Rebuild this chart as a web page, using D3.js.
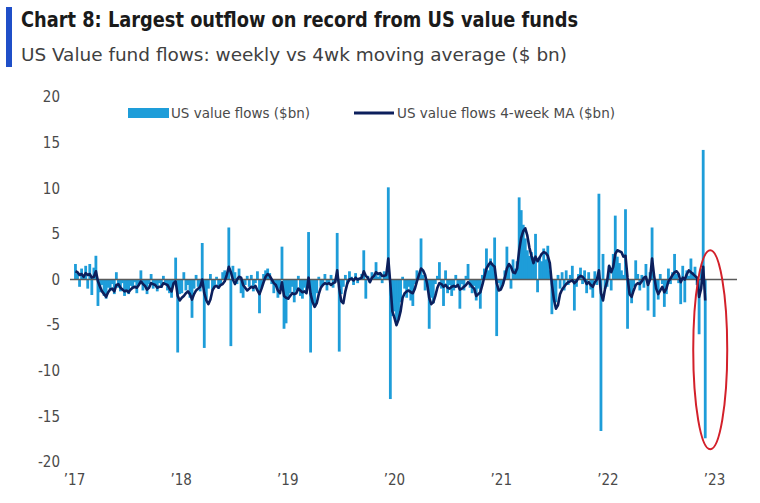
<!DOCTYPE html>
<html><head><meta charset="utf-8">
<script src="https://cdn.jsdelivr.net/npm/d3@7"></script>
<style>html,body{margin:0;padding:0;background:#fff;} svg{display:block;}</style>
</head><body>
<svg id="chart" width="760" height="503"></svg>
<script>
const titleText = "Chart 8: Largest outflow on record from US value funds";
const subtitleText = "US Value fund flows: weekly vs 4wk moving average ($ bn)";
const legendLabels = ["US value flows ($bn)", "US value flows 4-week MA ($bn)"];
const firstWeek = "2017-01-06";

// Weekly flows ($bn), one array per year
const flows2017 = [1.7,0.6,-0.8,1.2,0.4,1.5,-1.0,1.7,-1.7,1.3,2.6,-2.9,-1.4,-0.6,-1.8,-2.1,-0.9,-1.2,-0.5,-1.6,0.8,-0.9,-1.3,-0.4,-1.8,-1.1,-1.6,-0.7,-0.9,-0.3,-1.5,-0.6,1.0,-1.2,-0.8,-1.6,-0.5,0.6,-1.0,-0.7,-1.3,-0.4,-0.9,0.4,-0.6,-1.2,-1.5,-2.0,-0.5,2.4,-8.0,-1.6];
const flows2018 = [-1.5,0.8,-1.2,-0.6,-2.0,-4.2,-1.0,0.5,-0.8,-1.3,4.0,-7.5,-2.2,-1.0,0.6,-1.2,-0.7,0.3,-1.0,-0.5,0.8,1.0,0.4,5.7,-7.3,1.5,0.8,-0.5,1.2,-1.5,-2.0,-0.6,0.4,-0.8,0.5,-1.3,-0.4,0.9,-3.7,-0.8,0.6,1.0,1.2,0.7,-0.5,-1.5,-0.8,-2.0,-1.0,3.6,-5.4,-4.8];
const flows2019 = [-2.2,-1.5,-0.8,-2.5,-1.2,0.4,-1.8,-2.1,-0.9,-1.4,5.2,-8.0,-2.4,-3.0,-1.5,0.3,-0.8,-0.5,0.6,-1.2,-0.4,0.5,-0.9,-0.3,5.1,-7.9,-1.6,-0.8,0.5,-0.5,0.9,0.3,-0.6,0.7,-0.4,0.2,0.6,3.2,-2.1,0.4,-0.3,0.8,0.5,1.9,0.3,0.6,-0.4,0.9,0.5,10.1,-13.1,-4.0];
const flows2020 = [-3.5,-5.0,-4.2,-2.5,0.3,-1.0,-2.0,-0.8,-2.3,-2.9,-0.5,1.0,0.6,4.5,0.5,-1.2,-0.8,-5.4,-2.0,-2.6,-0.5,0.4,1.9,-1.0,-2.9,1.0,-1.5,-0.6,-1.8,-1.2,0.5,-0.8,-3.2,-0.5,-1.2,0.4,1.7,-0.9,-1.5,-0.7,-2.3,-1.0,-3.2,0.5,1.2,3.4,1.0,2.3,1.5,4.6,-6.2,-0.4];
const flows2021 = [-1.1,-0.5,1.0,3.6,1.5,-1.0,2.2,1.2,2.0,9.0,7.6,6.0,4.5,3.2,2.6,3.0,2.5,5.0,-1.4,2.5,2.0,3.4,2.2,3.7,1.0,-3.8,-2.0,-2.5,0.5,-1.0,0.8,-1.2,1.0,-0.6,0.5,1.5,-3.4,-0.8,0.6,1.3,-0.5,1.0,-1.5,0.8,-1.1,-2.0,0.9,-0.6,9.4,-16.6,2.8,-1.0];
const flows2022 = [-0.8,1.5,-1.2,2.8,7.0,2.5,1.8,1.0,0.5,7.7,-5.4,-1.5,-2.6,-0.8,2.1,0.6,-1.2,0.5,-0.9,1.7,-3.4,0.8,5.7,-4.1,-1.0,-2.2,0.6,-0.5,-3.0,-1.6,1.2,-0.5,0.8,2.8,0.6,-0.4,-2.7,1.5,-2.5,1.0,0.4,2.3,0.8,1.4,-0.6,-6.0,1.2,14.2,-17.4];

// 4-week moving average ($bn)
const ma2017 = [0.9,0.8,0.5,0.6,0.3,0.7,0.5,0.6,0.2,0.3,0.9,-0.2,-0.8,-1.3,-1.6,-1.9,-1.4,-1.1,-1.0,-1.3,-0.6,-0.5,-0.9,-1.1,-1.3,-1.2,-1.4,-1.1,-0.9,-0.8,-0.9,-0.6,-0.2,-0.5,-0.7,-1.1,-0.9,-0.4,-0.5,-0.6,-0.9,-0.8,-0.8,-0.4,-0.5,-0.6,-1.0,-1.3,-0.4,-0.2,-1.8,-2.3];
const ma2018 = [-2.0,-1.8,-1.5,-1.3,-1.6,-2.2,-1.6,-1.2,-1.0,-0.8,0.0,-1.5,-2.3,-2.7,-2.2,-1.2,-0.8,-0.7,-0.9,-0.6,-0.5,-0.2,0.5,1.4,0.8,0.0,-0.5,0.0,0.3,0.2,-0.6,-0.9,-1.2,-1.0,-0.8,-0.9,-0.7,-1.2,-1.6,-1.0,-0.3,0.3,0.6,0.4,0.0,-0.4,-0.6,-1.2,-1.5,-0.3,-1.8,-2.0];
const ma2019 = [-2.1,-1.8,-1.5,-1.6,-1.5,-1.0,-1.2,-1.4,-1.3,-1.5,0.2,-1.6,-2.5,-3.0,-2.6,-1.6,-0.9,-0.6,-0.4,-0.5,-0.4,-0.6,-0.4,-0.3,1.0,-1.0,-2.4,-2.6,-1.3,-0.4,0.0,0.1,-0.1,0.2,0.0,0.1,0.2,0.9,0.4,0.2,-0.3,0.2,0.4,0.8,0.6,0.7,0.4,0.4,0.5,2.3,-0.5,-3.5];
const ma2020 = [-4.2,-5.0,-4.4,-3.5,-2.0,-1.5,-1.3,-1.2,-1.4,-1.5,-1.0,-0.2,0.5,1.2,1.0,0.5,-0.5,-2.0,-2.7,-2.5,-1.8,-0.9,-0.4,-0.5,-0.8,-0.6,-0.9,-1.0,-0.8,-0.7,-0.8,-0.6,-1.1,-1.0,-0.8,-0.6,-0.3,-0.5,-0.8,-1.0,-1.8,-1.6,-1.4,-0.6,0.3,1.2,1.6,1.9,1.6,1.4,-0.4,-1.2];
const ma2021 = [-1.1,-0.6,0.2,1.2,1.7,1.4,0.8,0.7,1.2,3.2,4.6,5.3,5.6,4.8,3.5,2.6,1.8,2.5,2.0,2.4,2.8,3.0,2.9,2.6,1.8,-0.5,-2.2,-3.2,-2.8,-1.6,-1.1,-0.8,-0.5,-0.3,-0.2,-0.1,-0.4,-0.2,0.2,0.4,0.3,0.0,-0.5,-0.3,-0.6,-0.8,-0.3,0.0,1.0,-1.5,-2.3,-1.0];
const ma2022 = [-0.2,1.5,0.8,1.4,2.8,3.2,3.1,3.0,2.5,2.6,0.2,-1.6,-1.9,-1.2,-0.6,-0.4,-0.5,-0.2,0.2,0.3,-0.6,0.0,2.3,0.4,-1.0,-1.6,-1.2,-0.8,-1.4,-1.0,-0.2,0.1,0.5,0.8,0.9,0.6,-0.3,0.2,0.0,0.6,1.0,0.8,0.6,0.4,0.2,-1.9,-1.0,1.4,-2.3];

const yTicks = [20, 15, 10, 5, 0, -5, -10, -15, -20];
const xTickYears = [2017, 2018, 2019, 2020, 2021, 2022, 2023];
const xTickLabels = ["\u201917", "\u201918", "\u201919", "\u201920", "\u201921", "\u201922", "\u201923"];

const flows = [].concat(flows2017, flows2018, flows2019, flows2020, flows2021, flows2022);
const ma = [].concat(ma2017, ma2018, ma2019, ma2020, ma2021, ma2022);
const start = d3.timeParse("%Y-%m-%d")(firstWeek);
const data = flows.map((v, i) => ({ date: d3.timeDay.offset(start, 7 * i), flow: v, ma: ma[i] }));

const FONT = "'Liberation Sans Narrow','DejaVu Sans Condensed','Roboto Condensed','Liberation Sans',sans-serif";
const BAR = "#1e9dd9", NAVY = "#0c1f5c", TXT = "#4a4a4a";

const svg = d3.select("#chart");
svg.append("rect").attr("width", 760).attr("height", 503).attr("fill", "#fff");

const x = d3.scaleTime()
  .domain([new Date(xTickYears[0], 0, 1), new Date(xTickYears[xTickYears.length - 1], 0, 1)])
  .range([74, 714]);
const y = d3.scaleLinear().domain([-20, 20]).range([462, 97]);

// Title block
svg.append("rect").attr("x", 6).attr("y", 7).attr("width", 6).attr("height", 60).attr("fill", "#1f4fc8");
svg.append("text").attr("x", 21).attr("y", 27).text(titleText)
  .attr("font-family", FONT).attr("font-weight", "bold").attr("font-size", 21).attr("fill", "#1a1a1a")
  .attr("textLength", 557).attr("lengthAdjust", "spacingAndGlyphs");
svg.append("text").attr("x", 21).attr("y", 61).text(subtitleText)
  .attr("font-family", FONT).attr("font-size", 18.5).attr("fill", "#404040")
  .attr("textLength", 546).attr("lengthAdjust", "spacingAndGlyphs");

// Legend
const lg = svg.append("g");
lg.append("rect").attr("x", 128).attr("y", 108).attr("width", 41).attr("height", 10).attr("fill", BAR);
lg.append("text").attr("x", 171).attr("y", 118).text(legendLabels[0])
  .attr("font-family", FONT).attr("font-size", 14).attr("fill", TXT)
  .attr("textLength", 139).attr("lengthAdjust", "spacingAndGlyphs");
lg.append("line").attr("x1", 354).attr("x2", 394).attr("y1", 113).attr("y2", 113)
  .attr("stroke", NAVY).attr("stroke-width", 3);
lg.append("text").attr("x", 397).attr("y", 118).text(legendLabels[1])
  .attr("font-family", FONT).attr("font-size", 14).attr("fill", TXT)
  .attr("textLength", 218).attr("lengthAdjust", "spacingAndGlyphs");

// Y axis labels (plain hyphen minus, as in the original)
const yAxis = d3.axisLeft(y).tickValues(yTicks).tickSize(0).tickPadding(0).tickFormat(d => String(d));
const gy = svg.append("g").attr("transform", "translate(60,0)").call(yAxis);
gy.select(".domain").remove();
gy.selectAll("text").attr("font-family", FONT).attr("font-size", 15).attr("fill", TXT);

// X axis labels
const xAxis = d3.axisBottom(x).tickValues(xTickYears.map(yr => new Date(yr, 0, 1)))
  .tickSize(0).tickPadding(0).tickFormat((d, i) => xTickLabels[i]);
const gx = svg.append("g").attr("transform", "translate(0,474)").call(xAxis);
gx.select(".domain").remove();
gx.selectAll("text").attr("font-family", FONT).attr("font-size", 15).attr("fill", TXT);

// Bars
const bw = 2.8;
svg.append("g").selectAll("rect").data(data).join("rect")
  .attr("x", d => x(d.date) - bw / 2)
  .attr("width", bw)
  .attr("y", d => y(Math.max(0, d.flow)))
  .attr("height", d => Math.abs(y(d.flow) - y(0)))
  .attr("fill", BAR);

// Zero line
svg.append("line").attr("x1", 70).attr("x2", 737).attr("y1", y(0)).attr("y2", y(0))
  .attr("stroke", "#5a5a5a").attr("stroke-width", 1.5);

// Moving average
svg.append("path").datum(data)
  .attr("d", d3.line().x(d => x(d.date)).y(d => y(d.ma)))
  .attr("fill", "none").attr("stroke", NAVY).attr("stroke-width", 2.6).attr("stroke-linejoin", "round");

// Highlight ellipse around the last weeks
const last = data[data.length - 1];
svg.append("ellipse")
  .attr("cx", x(last.date) + 5)
  .attr("cy", (y(3.2) + y(-18.6)) / 2)
  .attr("rx", 17)
  .attr("ry", (y(-18.6) - y(3.2)) / 2)
  .attr("fill", "none").attr("stroke", "#d3202a").attr("stroke-width", 2);
</script>
</body></html>
